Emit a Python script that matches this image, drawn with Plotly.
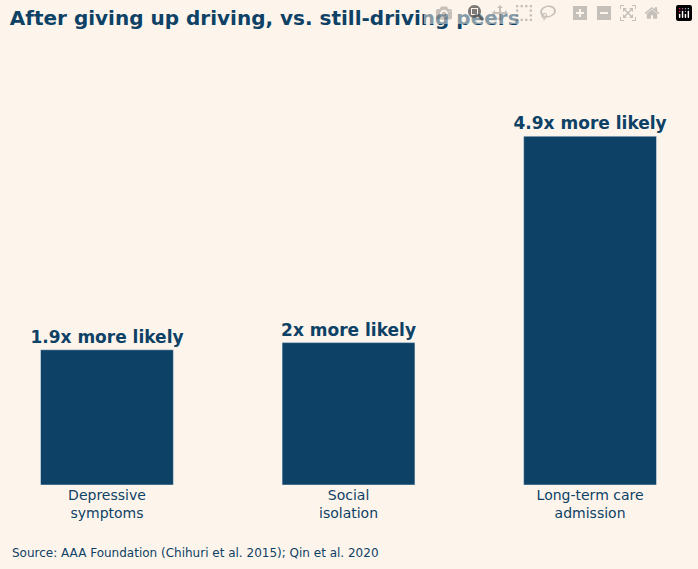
import plotly.graph_objects as go

categories = ["Depressive<br>symptoms", "Social<br>isolation", "Long-term care<br>admission"]
values = [1.9, 2.0, 4.9]
labels = ["1.9x more likely", "2x more likely", "4.9x more likely"]

bg = "#fdf5ec"
dark = "#0d4165"

fig = go.Figure(go.Bar(
    x=categories, y=values, text=labels, textposition="outside",
    textfont=dict(family="DejaVu Sans", size=17, color=dark, weight="bold"),
    marker_color=dark, width=0.55, cliponaxis=False, constraintext="none",
))
fig.update_layout(
    width=698, height=569, paper_bgcolor=bg, plot_bgcolor=bg,
    margin=dict(l=20, r=20, t=60, b=84),
    font=dict(family="DejaVu Sans", color=dark),
    title=dict(text="<b>After giving up driving, vs. still-driving peers</b>",
               x=0.014, xanchor="left", y=0.968, yanchor="middle",
               font=dict(size=20, color=dark)),
    showlegend=False,
    xaxis=dict(range=[-0.36, 2.364], showgrid=False, zeroline=False, showline=False,
               ticks="", ticklen=4, tickfont=dict(size=14, color=dark)),
    yaxis=dict(range=[0, 5.97], visible=False),
    annotations=[dict(text="Source: AAA Foundation (Chihuri et al. 2015); Qin et al. 2020",
                      xref="paper", yref="paper", x=-0.015, xanchor="left",
                      y=-0.16, yanchor="middle", showarrow=False,
                      font=dict(size=12, color=dark))],
)
fig.write_html("out.html", post_script="document.body.style.margin='0';document.body.style.background='%s';" % bg)
